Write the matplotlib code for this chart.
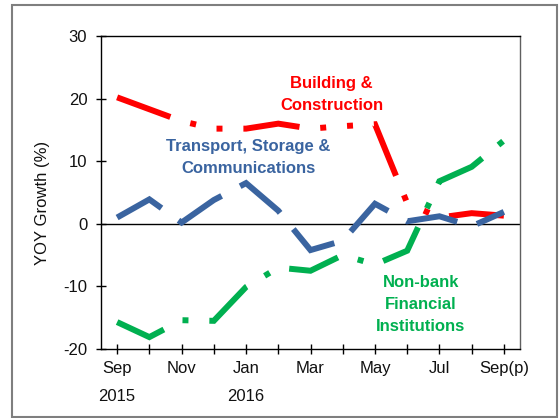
import matplotlib
matplotlib.use("Agg")
import matplotlib.pyplot as plt
from matplotlib.patches import Rectangle

plt.rcParams['font.family'] = ['Liberation Sans', 'DejaVu Sans']

months = ["Sep\n2015", "Oct", "Nov", "Dec", "Jan\n2016", "Feb", "Mar",
          "Apr", "May", "Jun", "Jul", "Aug", "Sep(p)"]
shown_labels = ["Sep\n2015", "", "Nov", "", "Jan\n2016", "", "Mar",
                "", "May", "", "Jul", "", "Sep(p)"]
building = [20.2, 18.3, 16.4, 15.2, 15.2, 16.0, 15.2, 15.6, 15.9, 3.3, 1.0, 1.7, 1.3]
transport = [1.0, 3.9, 0.2, 3.8, 6.5, 2.1, -4.2, -2.7, 3.2, 0.4, 1.2, -0.4, 1.9]
nonbank = [-15.7, -18.1, -15.4, -15.5, -10.1, -7.0, -7.5, -5.0, -6.5, -4.3, 6.8, 9.1, 13.3]
yticks = [-20, -10, 0, 10, 20, 30]

RED = "#FF0000"
BLUE = "#3A64A0"
GREEN = "#00B050"

fig = plt.figure(figsize=(5.6, 4.18), dpi=100)
ax = fig.add_axes([101 / 560, 1 - 349 / 418, 419 / 560, 313 / 418])

x = list(range(len(months)))
lw = 4.3
ax.axhline(0, color="black", lw=1.0, zorder=1)
l1, = ax.plot(x, building, color=RED, lw=lw, zorder=3)
l1.set_dashes((9.5, 3.5, 1, 3.5, 1, 3.5))
l2, = ax.plot(x, transport, color=BLUE, lw=lw, zorder=3)
l2.set_dashes((8.7, 3.5))
l3, = ax.plot(x, nonbank, color=GREEN, lw=lw, zorder=3)
l3.set_dashes((8.7, 3.5, 1, 3.5))
for l in (l1, l2, l3):
    l.set_dash_joinstyle("miter")
    l.set_dash_capstyle("butt")

ax.set_xlim(-0.5, 12.5)
ax.set_ylim(-20, 30)
ax.set_yticks(yticks)
ax.set_yticklabels([str(v) for v in yticks])
ax.set_xticks(x)
ax.set_xticklabels(shown_labels)
ax.tick_params(axis="both", direction="inout", length=7, width=1, color="black",
               labelsize=12, labelcolor="#111111")
ax.tick_params(axis="y", pad=6.4)
ax.tick_params(axis="x", pad=5.0)
for t in ax.get_xticklabels():
    t.set_linespacing(2.1)

for s in ("left", "bottom", "top"):
    ax.spines[s].set_color("black")
    ax.spines[s].set_linewidth(1.0)
ax.spines["right"].set_color("#606060")
ax.spines["right"].set_linewidth(1.0)

ax.text(6.65, 20.7, "Building &\nConstruction", color=RED, fontsize=12,
        fontweight="bold", ha="center", va="center", linespacing=1.6)
ax.text(4.07, 10.6, "Transport, Storage &\nCommunications", color=BLUE, fontsize=12,
        fontweight="bold", ha="center", va="center", linespacing=1.6)
ax.text(9.42, -12.9, "Non-bank\nFinancial\nInstitutions", color=GREEN, fontsize=12,
        fontweight="bold", ha="center", va="center", linespacing=1.6)

fig.text(43 / 560, 1 - 203 / 418, "YOY Growth (%)", rotation=90, fontsize=12,
         ha="center", va="center", color="#111111")

fig.patches.append(Rectangle((12 / 560, 1 / 418), 545 / 560, 412 / 418,
                             transform=fig.transFigure, fill=False,
                             edgecolor="#7F7F7F", lw=1.5))

fig.savefig("out.png", dpi=100)
